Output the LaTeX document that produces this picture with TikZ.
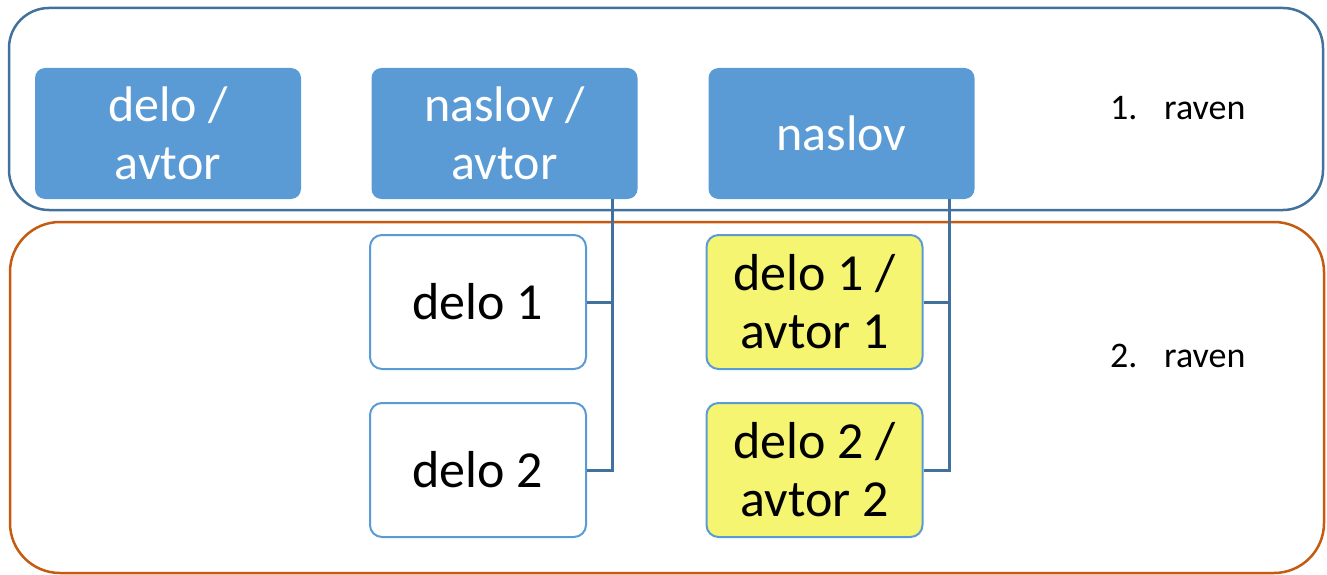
\documentclass[tikz,border=0pt]{standalone}
\usepackage{fontspec}
\setmainfont{Carlito}
\definecolor{accent}{HTML}{5B9BD5}
\definecolor{darkblue}{HTML}{41719C}
\definecolor{rustorange}{HTML}{C55A11}
\definecolor{lightyellow}{HTML}{F5F571}
\begin{document}
\begin{tikzpicture}[x=1pt,y=-1pt,
  layerframe/.style={draw, line width=2.5pt, rounded corners=40pt, minimum width=1314pt, inner sep=0pt},
  topbox/.style={fill=accent, rounded corners=10pt, text=white, minimum width=266pt, minimum height=131pt,
    align=center, inner sep=0pt, font=\fontsize{50}{58}\selectfont},
  lowbox/.style={draw=accent, line width=2pt, rounded corners=12pt, minimum width=216pt, minimum height=134pt,
    align=center, inner sep=0pt, font=\fontsize{52}{58}\selectfont},
  conn/.style={draw=darkblue, line width=3pt},
  layerlabel/.style={anchor=base west, inner sep=0pt, font=\fontsize{36}{40}\selectfont}]
\useasboundingbox (0,0) rectangle (1327,575);
% layer frames
\node[layerframe, draw=darkblue, minimum height=202pt] (L1) at (666,109) {};
\node[layerframe, draw=rustorange, rounded corners=50pt, minimum height=351pt] (L2) at (667,397.5) {};
% top boxes
\node[topbox] (b1) at (168,133.5) {delo /\\avtor};
\node[topbox] (b2) at (504.5,133.5) {naslov /\\avtor};
\node[topbox] (b3) at (841.5,133.5) {naslov};
% lower boxes
\node[lowbox, fill=white] (d1) at (478,302) {delo 1};
\node[lowbox, fill=white] (d2) at (478,470) {delo 2};
\node[lowbox, fill=lightyellow] (y1) at (814.5,302) {delo 1 /\\avtor 1};
\node[lowbox, fill=lightyellow] (y2) at (814.5,470) {delo 2 /\\avtor 2};
% connectors
\coordinate (t2) at ([xshift=-25pt]b2.south east);
\coordinate (t3) at ([xshift=-25pt]b3.south east);
\draw[conn] (t2) |- (d2.east);
\draw[conn] (d1.east) -- (d1.east -| t2);
\draw[conn] (t3) |- (y2.east);
\draw[conn] (y1.east) -- (y1.east -| t3);
% labels
\node[layerlabel] (lab1) at (1110,120) {\makebox[54pt][l]{1.}raven};
\node[layerlabel] (lab2) at (1110,367) {\makebox[54pt][l]{2.}raven};
\end{tikzpicture}
\end{document}
